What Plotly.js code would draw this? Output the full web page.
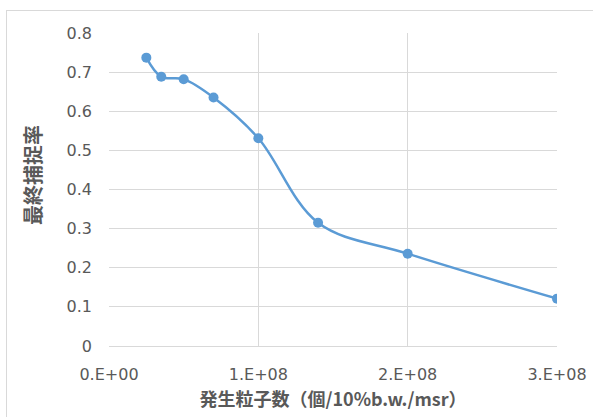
<!DOCTYPE html>
<html><head><meta charset="utf-8">
<script src="https://cdn.plot.ly/plotly-3.0.1.min.js"></script>
<style>
html,body{margin:0;padding:0;background:#fff;}
#wrap{position:relative;width:593px;height:417px;overflow:hidden;}
#frame{position:absolute;left:6px;top:10px;width:700px;height:500px;border:1px solid #D9D9D9;box-sizing:border-box;}
#chart{position:absolute;left:0;top:0;width:593px;height:417px;}
</style></head>
<body><div id="wrap"><div id="frame"></div><div id="chart"></div></div>
<script>
const particles = [2.5e7, 3.5e7, 5.0e7, 7.0e7, 1.0e8, 1.4e8, 2.0e8, 3.0e8];
const captureRate = [0.737, 0.688, 0.682, 0.635, 0.531, 0.315, 0.236, 0.121];
const xTickVals = [0, 1e8, 2e8, 3e8];
const xTickText = ["0.E+00", "1.E+08", "2.E+08", "3.E+08"];
const yTickVals = [0, 0.1, 0.2, 0.3, 0.4, 0.5, 0.6, 0.7, 0.8];
const yTickText = ["0", "0.1", "0.2", "0.3", "0.4", "0.5", "0.6", "0.7", "0.8"];
const xTitle = "発生粒子数（個/10%b.w./msr）";
const yTitle = "最終捕捉率";

const tickFont = {family: "DejaVu Sans, sans-serif", size: 16, color: "#595959"};
const titleFont = {family: "Noto Sans CJK JP, sans-serif", size: 18, color: "#595959", weight: "bold"};

Plotly.newPlot("chart", [{
  x: particles, y: captureRate, type: "scatter", mode: "lines+markers",
  line: {color: "#5B9BD5", width: 2.5, shape: "spline", smoothing: 1},
  marker: {color: "#5B9BD5", size: 10},
  showlegend: false, hoverinfo: "none"
}], {
  width: 593, height: 417,
  margin: {l: 109, r: 36, t: 33, b: 71},
  paper_bgcolor: "rgba(0,0,0,0)", plot_bgcolor: "rgba(0,0,0,0)",
  xaxis: {
    range: [0, 3e8], tickvals: xTickVals, ticktext: xTickText,
    showgrid: true, gridcolor: "#D9D9D9", gridwidth: 1,
    showline: true, linecolor: "#D9D9D9", linewidth: 1, zeroline: false,
    ticks: "", ticklabelstandoff: 14, tickfont: tickFont,
    title: {text: xTitle, font: titleFont, standoff: 10}
  },
  yaxis: {
    range: [0, 0.8], tickvals: yTickVals, ticktext: yTickText,
    showgrid: true, gridcolor: "#D9D9D9", gridwidth: 1,
    showline: false, zeroline: false,
    ticks: "", ticklabelstandoff: 16, tickfont: tickFont
  },
  annotations: [{
    text: yTitle, textangle: -90, font: {family: "Noto Sans CJK JP, sans-serif", size: 20, color: "#595959", weight: "bold"},
    xref: "paper", yref: "paper", x: (32 - 109) / 448, y: (346 - 175) / 313,
    xanchor: "center", yanchor: "middle", showarrow: false
  }]
}, {displayModeBar: false, staticPlot: true});
</script></body></html>
